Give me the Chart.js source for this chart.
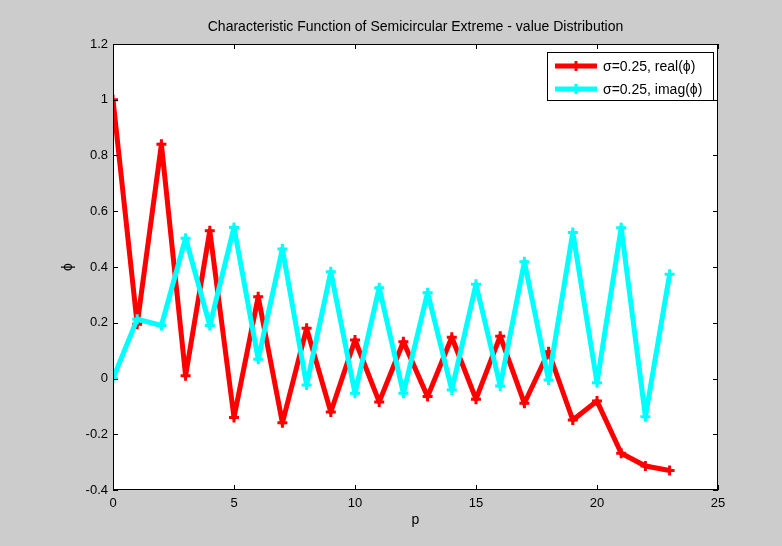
<!DOCTYPE html>
<html>
<head>
<meta charset="utf-8">
<script src="https://cdn.jsdelivr.net/npm/chart.js@4"></script>
<style>
  html, body { margin: 0; padding: 0; background: #cccccc; }
  canvas { display: block; }
</style>
</head>
<body>
<canvas id="grafico" width="782" height="546"></canvas>
<script>
// p = 0..23
const pValores = [0, 1, 2, 3, 4, 5, 6, 7, 8, 9, 10, 11, 12, 13, 14, 15, 16, 17, 18, 19, 20, 21, 22, 23];
const parteReal = [1.0, 0.195, 0.84, 0.01, 0.53, -0.14, 0.293, -0.159, 0.18, -0.12, 0.138, -0.084,
  0.132, -0.065, 0.148, -0.074, 0.152, -0.089, 0.096, -0.149, -0.081, -0.268, -0.314, -0.33];
const parteImag = [0.0, 0.213, 0.19, 0.503, 0.19, 0.542, 0.069, 0.465, -0.023, 0.383, -0.053, 0.326,
  -0.053, 0.308, -0.041, 0.338, -0.027, 0.419, -0.005, 0.524, -0.015, 0.541, -0.137, 0.374];
const rotulos = ["σ=0.25, real(ϕ)", "σ=0.25, imag(ϕ)"];
const titulo = "Characteristic Function of Semicircular Extreme - value Distribution";
const xTicks = [0, 5, 10, 15, 20, 25];
const yTicks = [-0.4, -0.2, 0, 0.2, 0.4, 0.6, 0.8, 1, 1.2];

const fonte = "'Liberation Sans', Arial, sans-serif";

function pontos(vals) {
  return pValores.map((p, i) => ({ x: p, y: vals[i] }));
}

// caixa estilo matlab: borda preta + ticks para dentro + titulo + legenda
const caixaMatlab = {
  id: "caixaMatlab",
  beforeDraw(chart) {
    const { ctx, chartArea: a } = chart;
    ctx.save();
    ctx.fillStyle = "#ffffff";
    ctx.fillRect(a.left, a.top, a.right - a.left, a.bottom - a.top);
    ctx.restore();
  },
  afterDraw(chart) {
    const { ctx, chartArea: a, scales } = chart;
    ctx.save();
    ctx.strokeStyle = "#000";
    ctx.lineWidth = 1;
    ctx.strokeRect(a.left + 0.5, a.top + 0.5, a.right - a.left - 1, a.bottom - a.top - 1);
    const tam = 5;
    ctx.beginPath();
    xTicks.forEach(v => {
      const x = Math.round(scales.x.getPixelForValue(v)) + 0.5;
      ctx.moveTo(x, a.bottom); ctx.lineTo(x, a.bottom - tam);
      ctx.moveTo(x, a.top); ctx.lineTo(x, a.top + tam);
    });
    yTicks.forEach(v => {
      const y = Math.round(scales.y.getPixelForValue(v)) + 0.5;
      ctx.moveTo(a.left, y); ctx.lineTo(a.left + tam, y);
      ctx.moveTo(a.right, y); ctx.lineTo(a.right - tam, y);
    });
    ctx.stroke();

    // titulo centrado sobre a area do grafico
    ctx.fillStyle = "#000";
    ctx.font = "14px " + fonte;
    ctx.textAlign = "center";
    ctx.textBaseline = "middle";
    ctx.fillText(titulo, (a.left + a.right) / 2, 27);

    // legenda
    const lx = 547, ly = 52, lw = 166, lh = 48;
    ctx.fillStyle = "#fff";
    ctx.fillRect(lx, ly, lw, lh);
    ctx.strokeStyle = "#000";
    ctx.strokeRect(lx + 0.5, ly + 0.5, lw, lh);
    ctx.font = "14px " + fonte;
    ctx.textAlign = "left";
    chart.data.datasets.forEach((ds, i) => {
      const yy = ly + 14 + i * 23;
      ctx.strokeStyle = ds.borderColor;
      ctx.lineWidth = 5;
      ctx.beginPath();
      ctx.moveTo(555, yy); ctx.lineTo(597, yy);
      ctx.stroke();
      ctx.lineWidth = 3;
      ctx.beginPath();
      ctx.moveTo(576, yy - 5); ctx.lineTo(576, yy + 5);
      ctx.stroke();
      ctx.fillStyle = "#000";
      ctx.fillText(ds.label, 603, yy + 1);
    });
    ctx.restore();
  }
};

const estiloSerie = {
  borderWidth: 5,
  borderJoinStyle: "round",
  pointStyle: "cross",
  pointRadius: 5,
  pointBorderWidth: 3,
  tension: 0,
};

new Chart(document.getElementById("grafico"), {
  type: "line",
  data: {
    datasets: [
      Object.assign({
        label: rotulos[0],
        data: pontos(parteReal),
        borderColor: "#ff0000",
        backgroundColor: "#ff0000",
        order: 1,
      }, estiloSerie),
      Object.assign({
        label: rotulos[1],
        data: pontos(parteImag),
        borderColor: "#00ffff",
        backgroundColor: "#00ffff",
        order: 0,
      }, estiloSerie),
    ],
  },
  plugins: [caixaMatlab],
  options: {
    responsive: false,
    animation: false,
    layout: { padding: { left: 0, right: 64, top: 44, bottom: 0 } },
    plugins: {
      legend: { display: false },
      tooltip: { enabled: false },
      title: { display: false },
    },
    scales: {
      x: {
        type: "linear",
        min: 0,
        max: 25,
        afterFit(s) { s.height = 56; },
        afterBuildTicks(s) { s.ticks = xTicks.map(v => ({ value: v })); },
        grid: { display: false, drawTicks: false },
        border: { display: false },
        ticks: { color: "#000", padding: 6, maxRotation: 0, font: { family: fonte, size: 13 } },
        title: {
          display: true, text: "p", color: "#000",
          font: { family: fonte, size: 14 }, padding: { top: 0, bottom: 17 },
        },
      },
      y: {
        type: "linear",
        min: -0.4,
        max: 1.2,
        afterFit(s) { s.width = 113; },
        afterBuildTicks(s) { s.ticks = yTicks.map(v => ({ value: v })); },
        grid: { display: false, drawTicks: false },
        border: { display: false },
        ticks: {
          color: "#000", padding: 5, font: { family: fonte, size: 13 },
          callback: v => String(Math.round(v * 10) / 10),
        },
        title: {
          display: true, text: "ϕ", color: "#000",
          font: { family: fonte, size: 14 }, padding: { top: 60, bottom: 0 },
        },
      },
    },
  },
});
</script>
</body>
</html>
